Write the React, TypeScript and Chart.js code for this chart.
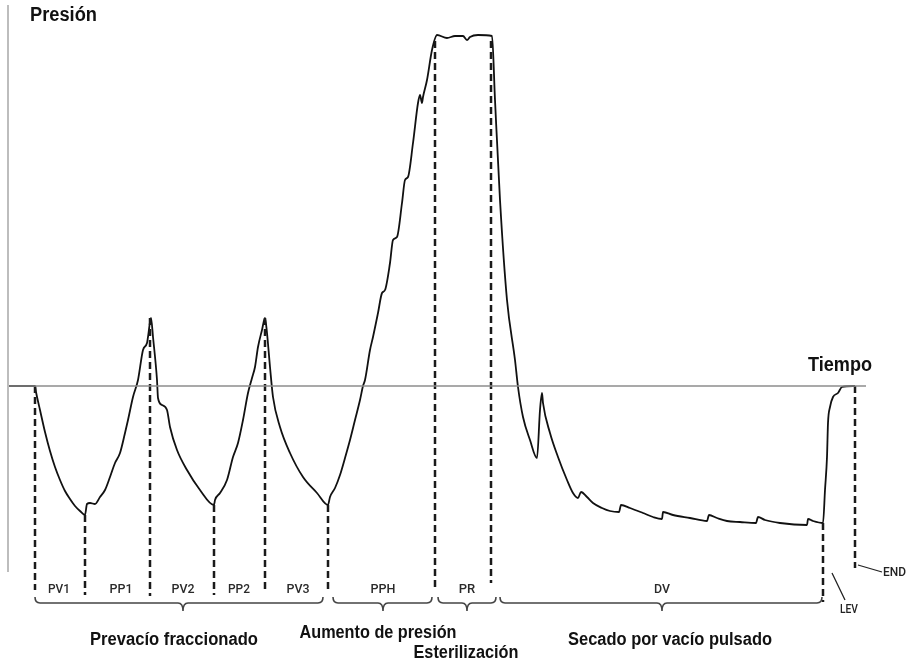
import React, { useEffect, useRef } from "react";
import { Chart, registerables } from "chart.js";

Chart.register(...registerables);

// Time (arbitrary minutes) and chamber pressure (bar, relative)
const timeMin = [
  0, 2.7, 2.8, 3.2, 3.7, 4.2, 4.7, 5.2, 5.7, 6.2, 6.7, 7.2, 7.7,
  7.9, 8.2, 8.7, 9.2, 9.7, 10.2, 10.7, 11.2, 11.7, 12.0, 12.5, 13.0, 13.5, 13.9, 14.0, 14.3,
  14.5, 14.9, 15.0, 15.4, 15.9, 16.2, 16.9, 17.9, 19.2, 20.6,
  20.7, 21.2, 21.9, 22.5, 23.0, 23.5, 24.0, 24.4, 24.7, 25.0, 25.4, 25.7,
  25.9, 26.2, 26.5, 27.2, 28.2, 29.5, 30.9, 32.0,
  32.2, 32.7, 33.2, 33.7, 34.2, 34.7, 35.2, 35.5, 35.7, 36.2, 36.5, 37.0, 37.4, 37.7,
  38.2, 38.5, 38.9, 39.4, 39.7, 40.0, 40.5, 41.0, 41.2, 41.4, 41.5, 41.9, 42.4, 42.9,
  43.9, 44.7, 45.5, 45.9, 46.2, 47.0, 48.4,
  48.7, 49.2, 49.9, 50.7, 51.0, 51.5, 52.2, 52.9, 53.2, 53.4, 53.5, 54.2, 55.0, 55.9,
  56.5, 57.0, 57.3, 57.9, 58.5, 59.4, 60.2, 61.1, 61.3, 62.2, 63.5, 64.5, 65.4, 65.5,
  66.5, 68.2, 69.9, 70.1, 70.9, 71.9, 73.2, 74.8, 75.0, 75.7, 77.2, 79.9, 80.0, 80.5, 81.5,
  81.7, 81.9, 82.0, 82.2, 82.5, 83.0, 83.4, 84.5, 84.7,
];
const pressureBar = [
  0, 0, -0.06, -0.24, -0.46, -0.65, -0.81, -0.94, -1.05, -1.13, -1.2, -1.25, -1.29,
  -1.18, -1.17, -1.18, -1.11, -1.04, -0.91, -0.77, -0.67, -0.47, -0.34, -0.11, 0.06, 0.36, 0.43, 0.49, 0.68,
  0.49, 0.06, -0.12, -0.19, -0.24, -0.41, -0.64, -0.84, -1.04, -1.19,
  -1.14, -1.07, -0.94, -0.71, -0.57, -0.34, -0.07, 0.08, 0.19, 0.39, 0.56, 0.68,
  0.53, 0.19, -0.11, -0.41, -0.67, -0.91, -1.07, -1.19,
  -1.11, -1.02, -0.89, -0.72, -0.54, -0.34, -0.14, 0, 0.06, 0.36, 0.49, 0.73, 0.93, 0.96,
  1.23, 1.46, 1.49, 1.83, 2.06, 2.09, 2.43, 2.83, 2.91, 2.83, 2.89, 3.06, 3.36, 3.51,
  3.48, 3.5, 3.5, 3.46, 3.49, 3.51, 3.5,
  2.86, 1.86, 0.86, 0.26, -0.01, -0.31, -0.54, -0.72, -0.24, -0.07, -0.17, -0.47, -0.71, -0.94,
  -1.07, -1.12, -1.06, -1.11, -1.17, -1.22, -1.25, -1.26, -1.19, -1.22, -1.27, -1.31, -1.33, -1.26,
  -1.29, -1.32, -1.35, -1.29, -1.32, -1.35, -1.36, -1.37, -1.31, -1.34, -1.37, -1.39, -1.33, -1.35, -1.37,
  -1.04, -0.71, -0.37, -0.21, -0.11, -0.07, -0.01, 0, 0,
];

// Phase boundaries (dashed verticals)
const boundaryTime = [2.7, 7.7, 14.2, 20.6, 25.7, 32.0, 42.7, 48.3, 81.5, 84.7];
const boundaryTop = [0, -1.29, 0.68, -1.19, 0.68, -1.19, 3.45, 3.45, -1.37, 0];
const boundaryBottom = [-2.04, -2.09, -2.1, -2.09, -2.07, -2.06, -2.01, -1.97, -2.16, -1.82];

// Phase labels
const phaseLabels = ["PV1", "PP1", "PV2", "PP2", "PV3", "PPH", "PR", "DV"];
const phaseLabelTime = [5.1, 11.3, 17.5, 23.1, 29.0, 37.5, 45.9, 65.4];

// Groups with braces
const groupNames = ["Prevacío fraccionado", "Aumento de presión", "Esterilización", "Secado por vacío pulsado"];
const groupStart = [2.7, 32.5, 43.0, 49.2];
const groupEnd = [31.5, 42.4, 48.8, 81.4];
const groupTip = [17.5, 37.5, 45.9, 65.4];
const groupLabelTime = [16.6, 37.0, 45.8, 66.2];
const groupLabelPressure = [-2.54, -2.47, -2.67, -2.54];

const axisTitles = ["Presión", "Tiempo"];

export default function App() {
  const ref = useRef<HTMLCanvasElement | null>(null);

  useEffect(() => {
    if (!ref.current) return;
    const curve = timeMin.map((t, i) => ({ x: t, y: pressureBar[i] }));
    const dashSets = boundaryTime.map((t, i) => ({
      data: [
        { x: t, y: boundaryTop[i] },
        { x: t, y: boundaryBottom[i] },
      ],
      borderColor: "#1a1a1a",
      borderWidth: 2.5,
      borderDash: [7, 4],
      showLine: true,
      pointRadius: 0,
    }));

    const annot = {
      id: "annot",
      afterDatasetsDraw(chart: any) {
        const { ctx } = chart;
        const xs = chart.scales.x;
        const ys = chart.scales.y;
        const px = (v: number) => xs.getPixelForValue(v);
        const py = (v: number) => ys.getPixelForValue(v);
        ctx.save();
        const txt = (s: string, x: number, y: number, font: string, maxW: number, align: CanvasTextAlign = "center", color = "#111") => {
          ctx.font = font;
          ctx.fillStyle = color;
          ctx.textAlign = align;
          ctx.textBaseline = "middle";
          const w = ctx.measureText(s).width;
          if (w > maxW) ctx.fillText(s, x, y, maxW);
          else ctx.fillText(s, x, y);
        };
        const smallFont = '500 13px Roboto, "Liberation Sans", sans-serif';
        // phase labels
        const smallW = [22, 23, 23, 22, 23, 25, 17, 16];
        phaseLabels.forEach((l, i) => {
          txt(l, px(phaseLabelTime[i]), py(-2.04), smallFont, smallW[i], "center", "#2a2a2a");
        });
        // braces
        ctx.strokeStyle = "#444";
        ctx.lineWidth = 1.6;
        const yl = py(-2.17);
        groupStart.forEach((s, i) => {
          const x0 = px(s);
          const x1 = px(groupEnd[i]);
          const xt = px(groupTip[i]);
          const r = 5;
          ctx.beginPath();
          ctx.moveTo(x0, yl - 6);
          ctx.quadraticCurveTo(x0, yl, x0 + r, yl);
          ctx.lineTo(xt - r, yl);
          ctx.quadraticCurveTo(xt, yl, xt, yl + 8);
          ctx.quadraticCurveTo(xt, yl, xt + r, yl);
          ctx.lineTo(x1 - r, yl);
          ctx.quadraticCurveTo(x1, yl, x1, yl - 6);
          ctx.stroke();
        });
        // group labels
        const bigFont = 'bold 18px "Liberation Sans", sans-serif';
        const bigW = [168, 157, 105, 204];
        groupNames.forEach((g, i) => {
          txt(g, px(groupLabelTime[i]), py(groupLabelPressure[i]), bigFont, bigW[i]);
        });
        // axis titles
        const titleFont = 'bold 20px "Liberation Sans", sans-serif';
        txt(axisTitles[0], px(2.2), py(3.71), titleFont, 67, "left");
        txt(axisTitles[1], px(83.2), py(0.21), titleFont, 64);
        // LEV / END
        ctx.strokeStyle = "#222";
        ctx.lineWidth = 1.3;
        ctx.beginPath();
        ctx.moveTo(px(82.4), py(-1.87));
        ctx.lineTo(px(83.7), py(-2.14));
        ctx.moveTo(px(85.0), py(-1.79));
        ctx.lineTo(px(87.4), py(-1.86));
        ctx.stroke();
        txt("LEV", px(84.1), py(-2.24), smallFont, 18, "center", "#222");
        txt("END", px(87.5), py(-1.87), smallFont, 23, "left", "#222");
        ctx.restore();
      },
    };

    const chart = new Chart(ref.current, {
      type: "scatter",
      data: {
        datasets: [
          {
            data: [
              { x: 0, y: 3.81 },
              { x: 0, y: -1.86 },
            ],
            borderColor: "#bdbdbd",
            borderWidth: 2,
            showLine: true,
            pointRadius: 0,
          },
          {
            data: [
              { x: 0, y: 0 },
              { x: 85.8, y: 0 },
            ],
            borderColor: "#8c8c8c",
            borderWidth: 1.6,
            showLine: true,
            pointRadius: 0,
          },
          ...dashSets,
          {
            data: curve,
            borderColor: "#111",
            borderWidth: 1.8,
            showLine: true,
            pointRadius: 0,
            cubicInterpolationMode: "monotone",
          },
        ] as any,
      },
      options: {
        animation: false,
        responsive: false,
        devicePixelRatio: 1,
        layout: { padding: 0 },
        plugins: { legend: { display: false }, tooltip: { enabled: false } },
        scales: {
          x: { type: "linear", display: false, min: -0.8, max: 90.2 },
          y: { type: "linear", display: false, min: -2.79, max: 3.86 },
        },
      },
      plugins: [annot],
    });
    return () => chart.destroy();
  }, []);

  return (
    <div style={{ position: "absolute", left: 0, top: 0, width: 910, height: 665, background: "#fff" }}>
      <canvas ref={ref} width={910} height={665} />
    </div>
  );
}
